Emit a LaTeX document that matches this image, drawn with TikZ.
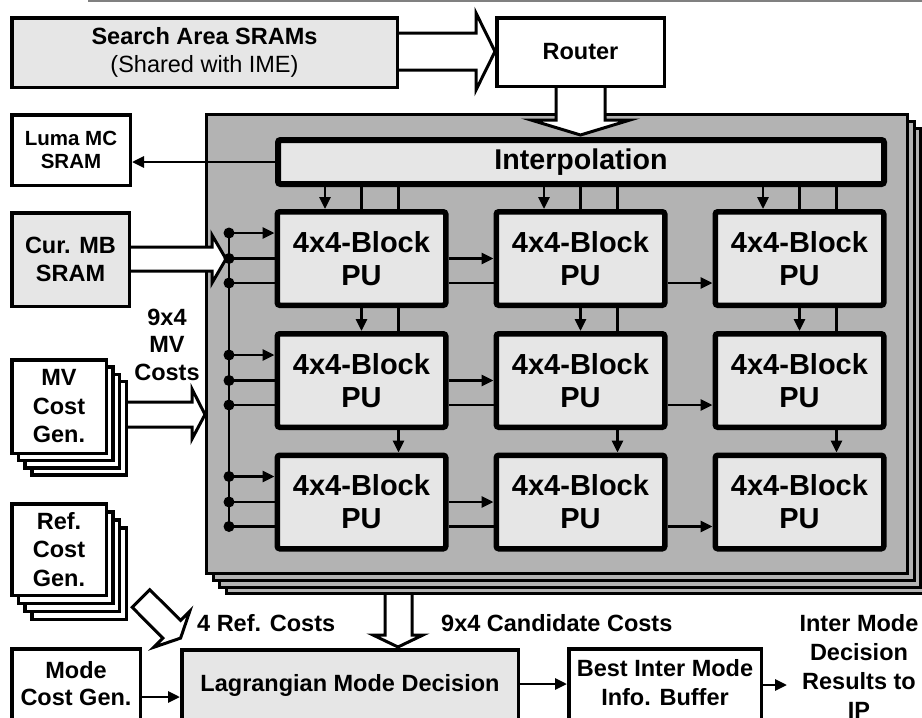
\documentclass[tikz,border=0pt]{standalone}
\usepackage{fontspec}
\setmainfont{Liberation Sans}
\usetikzlibrary{arrows.meta,calc}
\definecolor{lightfill}{HTML}{E6E6E6}
\definecolor{midgray}{HTML}{B3B3B3}
\begin{document}
\begin{tikzpicture}[x=1pt,y=-1pt,
  box/.style={draw, line width=3.5pt, inner sep=0pt, align=center,
    font=\bfseries\fontsize{23.5}{28.5}\selectfont},
  pu/.style={draw, line width=5.5pt, fill=lightfill, rounded corners=2.5pt,
    minimum width=168.5pt, minimum height=93.5pt, inner sep=0pt, align=center,
    font=\bfseries\fontsize{29}{33}\selectfont},
  interpbox/.style={draw, line width=6pt, fill=lightfill, rounded corners=2.5pt,
    minimum width=606pt, minimum height=44pt, inner sep=0pt,
    font=\bfseries\fontsize{28.6}{33}\selectfont},
  corebox/.style={draw, line width=3pt, fill=midgray, minimum width=701pt,
    minimum height=459pt, inner sep=0pt},
  conn/.style={line width=2.8pt},
  arr/.style={conn, -{Triangle[length=12pt,width=11pt]}},
  blockarrow/.style={draw, line width=3pt, fill=white, line join=miter},
  lbl/.style={inner sep=0pt, align=center, font=\bfseries\fontsize{23.5}{28.5}\selectfont},
]
\useasboundingbox (0,0) rectangle (922,718);
\clip (0,0) rectangle (922,718);

% header rule
\draw[gray, line width=2pt] (88,1) -- (922,1);

% stacked core
\foreach \k in {3,2,1}
  \node[corebox] (core\k) at ({557+6.5*\k},{344+6.8*\k}) {};
\node[corebox] (core) at (557,344) {};

% block arrows
\draw[blockarrow] (397,33) -- (476,33) -- (476,13) -- (495,51.5) -- (476,90) -- (476,70) -- (397,70);
\draw[blockarrow] (556,86) -- (556,120) -- (531,120) -- (580.5,135) -- (630,120) -- (605,120) -- (605,86);
\draw[blockarrow] (129,247) -- (212,247) -- (212,235) -- (226,259) -- (212,283) -- (212,271) -- (129,271);
\draw[blockarrow] (126,402) -- (192,402) -- (192,389) -- (205,414.5) -- (192,439) -- (192,427) -- (126,427);
\draw[blockarrow] (385,595) -- (385,635) -- (373,635) -- (398,647) -- (423,635) -- (412,635) -- (412,595);
\draw[blockarrow] (149.8,589.7) -- (180.6,620.4) -- (189.8,611.2) -- (180.6,638.1) -- (153.7,647.3) -- (162.9,638.1) -- (132.2,607.3) -- cycle;

% interpolation
\node[interpbox] (interp) at (581,162) {Interpolation};

% PUs
\foreach \r/\y in {1/258.5,2/380.5,3/502}
  \foreach \c/\x in {1/361.5,2/580.5,3/799.5}
    \node[pu] (p\r\c) at (\x,\y) {4x4-Block\\PU};

% vertical connectors
\foreach \c in {1,2,3} {
  \coordinate (va\c) at ([xshift=-36.5pt]p1\c.north);
  \coordinate (vc\c) at ([xshift=37pt]p1\c.north);
  \draw[arr] (va\c |- interp.south) -- (va\c);
  \draw[conn] (p1\c.north |- interp.south) -- (p1\c.north);
  \draw[conn] (vc\c |- interp.south) -- (vc\c);
  \draw[arr] (p1\c.south) -- (p2\c.north);
  \draw[conn] ([xshift=37pt]p1\c.south) -- ([xshift=37pt]p2\c.north);
  \draw[arr] ([xshift=37pt]p2\c.south) -- ([xshift=37pt]p3\c.north);
}

% horizontal connectors and bus
\coordinate (bus) at (229,0);
\foreach \r in {1,2,3} {
  \coordinate (hu\r) at ([yshift=25.5pt]p\r1.west);
  \coordinate (hd\r) at ([yshift=-24.5pt]p\r1.west);
  \draw[arr] (bus |- hu\r) -- (hu\r);
  \draw[conn] (bus |- p\r1.west) -- (p\r1.west);
  \draw[conn] (bus |- hd\r) -- (hd\r);
  \draw[arr] (p\r1.east) -- (p\r2.west);
  \draw[conn] ([yshift=-24.5pt]p\r1.east) -- ([yshift=-24.5pt]p\r2.west);
  \draw[arr] ([yshift=-24.5pt]p\r2.east) -- ([yshift=-24.5pt]p\r3.west);
}
\draw[conn] (bus |- hu1) -- (bus |- hd3);
\foreach \r in {1,2,3} {
  \fill (bus |- hu\r) circle (5.5pt);
  \fill (bus |- p\r1.west) circle (5.5pt);
  \fill (bus |- hd\r) circle (5.5pt);
}

% outer boxes
\node[box, fill=lightfill, minimum width=385.5pt, minimum height=69.5pt] (search) at (204.5,52.5)
  {Search Area SRAMs\\\mdseries (Shared with IME)};
\node[box, fill=white, minimum width=167.5pt, minimum height=68.5pt] (router) at (580.5,52) {Router};
\node[box, fill=white, font=\bfseries\fontsize{20.5}{22.5}\selectfont,
  minimum width=118.5pt, minimum height=70.5pt] (luma) at (71,150) {Luma MC\\SRAM};
\node[box, fill=lightfill, minimum width=117.5pt, minimum height=93.5pt] (curmb) at (70.5,259.5) {Cur. MB\\SRAM};

\foreach \k in {3,2,1}
  \node[box, fill=white, minimum width=94.5pt, minimum height=93.5pt] (mvl\k) at ({59+6.7*\k},{406.5+7.3*\k}) {};
\node[box, fill=white, minimum width=94.5pt, minimum height=93.5pt] (mv) at (59,406.5) {MV\\Cost\\Gen.};

\foreach \k in {3,2,1}
  \node[box, fill=white, minimum width=94.5pt, minimum height=91.5pt] (refl\k) at ({59+6.7*\k},{549.5+8*\k}) {};
\node[box, fill=white, minimum width=94.5pt, minimum height=91.5pt] (ref) at (59,549.5) {Ref.\\Cost\\Gen.};

\node[box, fill=white, minimum width=128.5pt, minimum height=100pt, anchor=north] (mode) at (76,647) {};
\node[box, fill=lightfill, minimum width=336.5pt, minimum height=100pt, anchor=north] (lag) at (350,648) {};
\node[box, fill=white, minimum width=192.5pt, minimum height=100pt, anchor=north] (best) at (665,647) {};

\node[lbl, font=\bfseries\fontsize{23.5}{27}\selectfont] (tmode) at (76,683.5) {Mode\\Cost Gen.};
\node[lbl] (tlag) at (350,685.5) {Lagrangian Mode Decision};
\node[lbl] (tbest) at (665,682.5) {Best Inter Mode\\Info. Buffer};

% luma connector
\draw[arr] (interp.west) -- (interp.west -| luma.east);

% bottom connectors
\coordinate (mk) at (0,697);
\coordinate (lk) at (0,684);
\coordinate (outp) at (787,685);
\draw[arr] (mode.east |- mk) -- (lag.west |- mk);
\draw[arr] (lag.east |- lk) -- (best.west |- lk);
\draw[arr] (best.east |- outp) -- (outp);

% labels
\node[lbl, font=\bfseries\fontsize{23.5}{27.5}\selectfont] (t9x4) at (167,344.5) {9x4\\MV\\Costs};
\node[lbl, anchor=west] (tref) at (197,623) {4 Ref. Costs};
\node[lbl, anchor=west] (tcand) at (441,623) {9x4 Candidate Costs};
\node[lbl, font=\bfseries\fontsize{23.5}{29}\selectfont] (tres) at (859,666.5) {Inter Mode\\Decision\\Results to\\IP};
\end{tikzpicture}
\end{document}
